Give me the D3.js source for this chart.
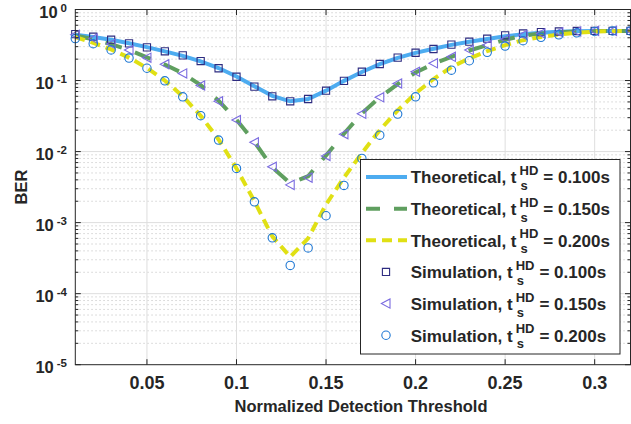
<!DOCTYPE html>
<html>
<head>
<meta charset="utf-8">
<script src="https://d3js.org/d3.v7.min.js"></script>
<style>
body { margin: 0; background: #fff; }
text { font-family: "Liberation Sans", Arial, sans-serif; font-weight: bold; fill: #262626; }
</style>
</head>
<body>
<svg width="631" height="424"></svg>
<script>
// normalized detection threshold
var thr = [0.01,0.02,0.03,0.04,0.05,0.06,0.07,0.08,0.09,0.10,0.11,0.12,0.13,0.14,0.15,0.16,
           0.17,0.18,0.19,0.20,0.21,0.22,0.23,0.24,0.25,0.26,0.27,0.28,0.29,0.30,0.31,0.32];

// theoretical BER curves
var theo100 = [0.44,0.41,0.375,0.335,0.295,0.257,0.222,0.186,0.15,0.114,0.083,0.061,0.051,0.055,0.072,0.099,
               0.132,0.17,0.208,0.245,0.28,0.318,0.352,0.385,0.42,0.45,0.47,0.485,0.493,0.497,0.499,0.5];
var theo150 = [0.43,0.38,0.325,0.27,0.212,0.168,0.127,0.086,0.052,0.028,0.0137,0.006,0.0036,0.0045,0.0088,0.0178,
               0.0345,0.058,0.089,0.13,0.172,0.215,0.265,0.315,0.375,0.43,0.46,0.48,0.49,0.497,0.5,0.5];
var theo200 = [0.41,0.34,0.275,0.21,0.15,0.1,0.06,0.032,0.0148,0.0058,0.002,0.00064,0.00033,0.0006,0.0018,0.0043,
               0.0095,0.02,0.038,0.066,0.105,0.155,0.205,0.26,0.315,0.37,0.41,0.445,0.47,0.488,0.496,0.5];

// simulated BER
var sim100 = [0.45,0.414,0.376,0.334,0.293,0.258,0.226,0.188,0.149,0.113,0.082,0.060,0.051,0.055,0.072,0.099,
              0.133,0.171,0.21,0.246,0.278,0.32,0.352,0.388,0.433,0.46,0.48,0.49,0.498,0.5,0.5,0.5];
var sim150 = [0.44,0.39,0.327,0.27,0.21,0.169,0.126,0.085,0.051,0.0278,0.0135,0.0061,0.0034,0.0043,0.0087,0.0176,
              0.034,0.058,0.091,0.133,0.175,0.216,0.269,0.316,0.38,0.437,0.46,0.48,0.49,0.5,0.5,0.5];
var sim200 = [0.39,0.33,0.27,0.207,0.149,0.099,0.059,0.032,0.0145,0.0058,0.00196,0.00061,0.00025,0.00044,0.00125,0.00334,
              0.008,0.017,0.0337,0.059,0.093,0.14,0.19,0.25,0.306,0.364,0.406,0.44,0.47,0.49,0.5,0.5];

var xTicks = [0.05,0.1,0.15,0.2,0.25,0.3];
var xTickLabels = ["0.05","0.1","0.15","0.2","0.25","0.3"];
var yExp = [0,-1,-2,-3,-4,-5];
var legendNames = ["Theoretical, t","Theoretical, t","Theoretical, t","Simulation, t","Simulation, t","Simulation, t"];
var legendVals = ["= 0.100s","= 0.150s","= 0.200s","= 0.100s","= 0.150s","= 0.200s"];

var svg = d3.select("svg");
var x = d3.scaleLinear().domain([0.01,0.32]).range([75.3,630.5]);
var y = d3.scaleLog().domain([1e-5,1]).range([364.7,9.5]);
var x0 = x.range()[0], x1 = x.range()[1], yb = y.range()[0], yt = y.range()[1];

// minor grid (dotted)
var minor = [];
for (var k = -5; k < 0; k++) for (var m = 2; m <= 9; m++) minor.push(m * Math.pow(10,k));
svg.append("g").selectAll("line").data(minor).enter().append("line")
  .attr("x1",x0).attr("x2",x1).attr("y1",d=>y(d)).attr("y2",d=>y(d))
  .attr("stroke","#d2d2d2").attr("stroke-width",1).attr("stroke-dasharray","1.5,2.5");
// major grid
svg.append("g").selectAll("line").data(yExp.slice(1,5)).enter().append("line")
  .attr("x1",x0).attr("x2",x1).attr("y1",d=>y(Math.pow(10,d))).attr("y2",d=>y(Math.pow(10,d)))
  .attr("stroke","#dedede").attr("stroke-width",1);
svg.append("g").selectAll("line").data(xTicks).enter().append("line")
  .attr("x1",d=>x(d)).attr("x2",d=>x(d)).attr("y1",yt).attr("y2",yb)
  .attr("stroke","#dedede").attr("stroke-width",1);

// theoretical lines
var line = d3.line().x((d,i)=>x(thr[i])).y(d=>y(d));
var lineStyles = [
  {data: theo100, color: "#4dacf0", dash: null},
  {data: theo150, color: "#5f9f5f", dash: "17,14"},
  {data: theo200, color: "#e0e014", dash: "10,6"}
];
lineStyles.forEach(function(s){
  svg.append("path").attr("d",line(s.data)).attr("fill","none")
    .attr("stroke",s.color).attr("stroke-width",4)
    .attr("stroke-dasharray",s.dash);
});

// markers
var symSquare = "M-3.6,-3.6H3.6V3.6H-3.6Z";
var symTri = "M-4.6,0L4,-4.6L4,4.6Z";
var symCirc = "M4.2,0A4.2,4.2 0 1,1 -4.2,0A4.2,4.2 0 1,1 4.2,0Z";
var markerStyles = [
  {data: sim100, color: "#2d2b80", sym: symSquare},
  {data: sim150, color: "#7a6be0", sym: symTri},
  {data: sim200, color: "#1f78d4", sym: symCirc}
];
markerStyles.forEach(function(s){
  svg.append("g").selectAll("path").data(s.data).enter().append("path")
    .attr("d",s.sym)
    .attr("transform",(d,i)=>"translate("+x(thr[i])+","+y(d)+")")
    .attr("fill","none").attr("stroke",s.color).attr("stroke-width",1.1);
});

// axes box and ticks
var ax = svg.append("g").attr("stroke","#262626").attr("stroke-width",1);
ax.append("rect").attr("x",x0).attr("y",yt).attr("width",x1-x0).attr("height",yb-yt).attr("fill","none");
xTicks.forEach(function(t){
  ax.append("line").attr("x1",x(t)).attr("x2",x(t)).attr("y1",yb).attr("y2",yb-5.5);
  ax.append("line").attr("x1",x(t)).attr("x2",x(t)).attr("y1",yt).attr("y2",yt+5.5);
});
yExp.forEach(function(e){
  var yy = y(Math.pow(10,e));
  ax.append("line").attr("x1",x0).attr("x2",x0+5.5).attr("y1",yy).attr("y2",yy);
  ax.append("line").attr("x1",x1).attr("x2",x1-5.5).attr("y1",yy).attr("y2",yy);
});
minor.forEach(function(v){
  ax.append("line").attr("x1",x0).attr("x2",x0+3).attr("y1",y(v)).attr("y2",y(v));
  ax.append("line").attr("x1",x1).attr("x2",x1-3).attr("y1",y(v)).attr("y2",y(v));
});

// tick labels
svg.append("g").selectAll("text").data(xTicks).enter().append("text")
  .attr("x",d=>x(d)).attr("y",389).attr("text-anchor","middle").attr("font-size",18)
  .text((d,i)=>xTickLabels[i]);
yExp.forEach(function(e){
  var yy = y(Math.pow(10,e));
  var t = svg.append("text").attr("x",67).attr("y",yy+8.7).attr("text-anchor","end").attr("font-size",16.5);
  t.append("tspan").text("10");
  t.append("tspan").attr("dx",3).attr("dy",-6.7).attr("font-size",11.5).text(String(e));
});

// axis labels
svg.append("text").attr("x",361).attr("y",411.5).attr("text-anchor","middle")
  .attr("font-size",16.5).text("Normalized Detection Threshold");
svg.append("text").attr("transform","translate(27,"+((yt+yb)/2)+") rotate(-90)")
  .attr("text-anchor","middle").attr("font-size",16.5).text("BER");

// legend
var lg = svg.append("g");
lg.append("rect").attr("x",360.5).attr("y",159.5).attr("width",259.5).attr("height",194.5)
  .attr("fill","#fff").attr("stroke","#262626").attr("stroke-width",1);
for (var r = 0; r < 6; r++) {
  var cy = 177 + r * 31.65;
  if (r < 3) {
    var s = lineStyles[r];
    lg.append("line").attr("x1",366).attr("x2",407).attr("y1",cy).attr("y2",cy)
      .attr("stroke",s.color).attr("stroke-width",4).attr("stroke-dasharray",s.dash)
      .attr("stroke-dashoffset", r == 1 ? 3 : 0);
  } else {
    var ms = markerStyles[r-3];
    lg.append("path").attr("d",ms.sym).attr("transform","translate(386,"+cy+")")
      .attr("fill","none").attr("stroke",ms.color).attr("stroke-width",1.1);
  }
  var base = cy + 6.3;
  var t1 = lg.append("text").attr("x",410.7).attr("y",base).attr("font-size",17).text(legendNames[r]);
  var w1 = t1.node().getComputedTextLength();
  var hx = 410.7 + w1 + 3;
  var hd = lg.append("text").attr("x",hx).attr("y",base-8.3).attr("font-size",13).text("HD");
  lg.append("text").attr("x",hx+1).attr("y",base+6.7).attr("font-size",13).text("s");
  var wh = hd.node().getComputedTextLength();
  lg.append("text").attr("x",hx+wh+5).attr("y",base).attr("font-size",17).text(legendVals[r]);
}
</script>
</body>
</html>
